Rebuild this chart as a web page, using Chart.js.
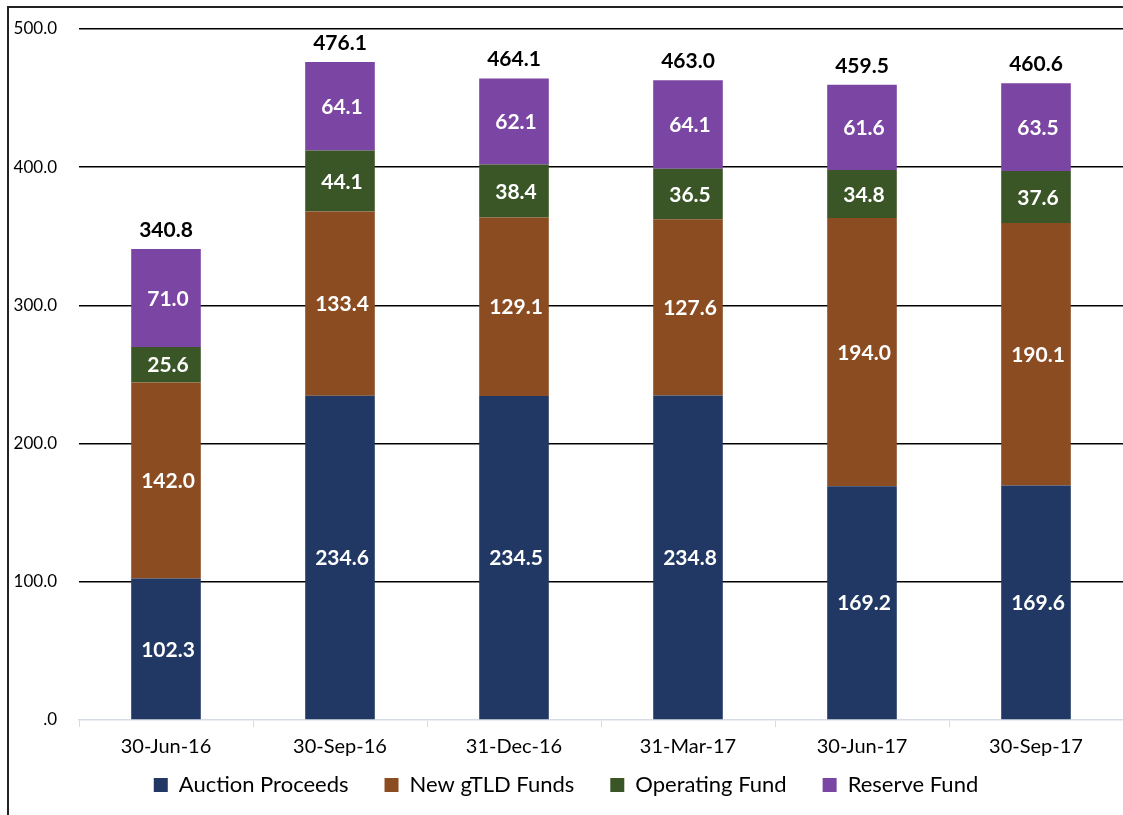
<!DOCTYPE html>
<html>
<head>
<meta charset="utf-8">
<script src="https://cdn.jsdelivr.net/npm/chart.js@4"></script>
<style>
    html, body { margin: 0; padding: 0; background: #fff; }
    .frame {
        position: absolute;
        left: 7px;
        top: 6px;
        width: 1116px;
        height: 809px;
        border-left: 2px solid #222;
        border-top: 2px solid #222;
    }
    canvas { display: block; }
</style>
</head>
<body>
<div class="frame">
    <canvas id="fundChart" width="1114" height="807"></canvas>
</div>
<script>
const categories = ['30-Jun-16', '30-Sep-16', '31-Dec-16', '31-Mar-17', '30-Jun-17', '30-Sep-17'];
const auctionProceeds = [102.3, 234.6, 234.5, 234.8, 169.2, 169.6];
const newGtldFunds = [142.0, 133.4, 129.1, 127.6, 194.0, 190.1];
const operatingFund = [25.6, 44.1, 38.4, 36.5, 34.8, 37.6];
const reserveFund = [71.0, 64.1, 62.1, 64.1, 61.6, 63.5];
const totals = [340.8, 476.1, 464.1, 463.0, 459.5, 460.6];
const yTicks = [0, 100, 200, 300, 400, 500];

const FONT = 'Lato, "Open Sans", sans-serif';
const LEGEND_PAD = 36;
const LEGEND_SHIFT = -29; // pull legend row closer to the axis labels

// white value inside each segment, black total on top
const barLabels = {
    id: 'barLabels',
    afterDatasetsDraw(chart) {
        const ctx = chart.ctx;
        ctx.save();
        ctx.textAlign = 'center';
        ctx.textBaseline = 'middle';
        ctx.font = 'bold 21px ' + FONT;
        ctx.fillStyle = '#fff';
        chart.data.datasets.forEach((ds, i) => {
            chart.getDatasetMeta(i).data.forEach((bar, j) => {
                const mid = (bar.y + bar.base) / 2;
                ctx.fillText(ds.data[j].toFixed(1), bar.x + 2, mid + 1);
            });
        });
        const topMeta = chart.getDatasetMeta(chart.data.datasets.length - 1);
        ctx.fillStyle = '#000';
        topMeta.data.forEach((bar, j) => {
            ctx.fillText(totals[j].toFixed(1), bar.x, bar.y - 19);
        });
        ctx.restore();
    }
};

const legendShift = {
    id: 'legendShift',
    afterLayout(chart) {
        chart.legend.top += LEGEND_SHIFT;
        chart.legend.bottom += LEGEND_SHIFT;
    }
};

const chart = new Chart(document.querySelector('#fundChart'), {
    type: 'bar',
    data: {
        labels: categories,
        datasets: [
            { label: 'Auction Proceeds', data: auctionProceeds, backgroundColor: '#213864' },
            { label: 'New gTLD Funds', data: newGtldFunds, backgroundColor: '#8b4c22' },
            { label: 'Operating Fund', data: operatingFund, backgroundColor: '#3a5526' },
            { label: 'Reserve Fund', data: reserveFund, backgroundColor: '#7b45a3' }
        ]
    },
    options: {
        responsive: false,
        animation: false,
        datasets: {
            bar: {
                barPercentage: 0.4,
                categoryPercentage: 1,
                borderWidth: 0
            }
        },
        layout: { padding: { top: 21, right: 0, left: 0, bottom: -20 } },
        plugins: {
            legend: {
                position: 'bottom',
                labels: {
                    boxWidth: 14,
                    boxHeight: 14,
                    padding: LEGEND_PAD,
                    color: '#000',
                    font: { family: FONT, size: 22 }
                }
            },
            tooltip: { enabled: false }
        },
        scales: {
            x: {
                stacked: true,
                grid: {
                    drawOnChartArea: false,
                    drawTicks: true,
                    tickLength: 7,
                    color: '#d6dce5'
                },
                border: { color: '#d6dce5', width: 1.5 },
                ticks: {
                    color: '#000',
                    padding: 8,
                    font: { family: FONT, size: 20 }
                }
            },
            y: {
                stacked: true,
                min: 0,
                max: 500,
                afterFit(scale) {
                    scale.width = 70;
                    scale.paddingTop = 0;
                    scale.paddingBottom = 0;
                },
                afterBuildTicks(scale) { scale.ticks = yTicks.map(v => ({ value: v })); },
                border: { display: false },
                grid: {
                    drawTicks: false,
                    lineWidth: 1.4,
                    color: c => c.tick.value === 0 ? 'rgba(0,0,0,0)' : '#000'
                },
                ticks: {
                    color: '#000',
                    padding: 22,
                    font: { family: FONT, size: 17 },
                    callback: v => v === 0 ? '.0' : v.toFixed(1)
                }
            }
        }
    },
    plugins: [barLabels, legendShift]
});
</script>
</body>
</html>
